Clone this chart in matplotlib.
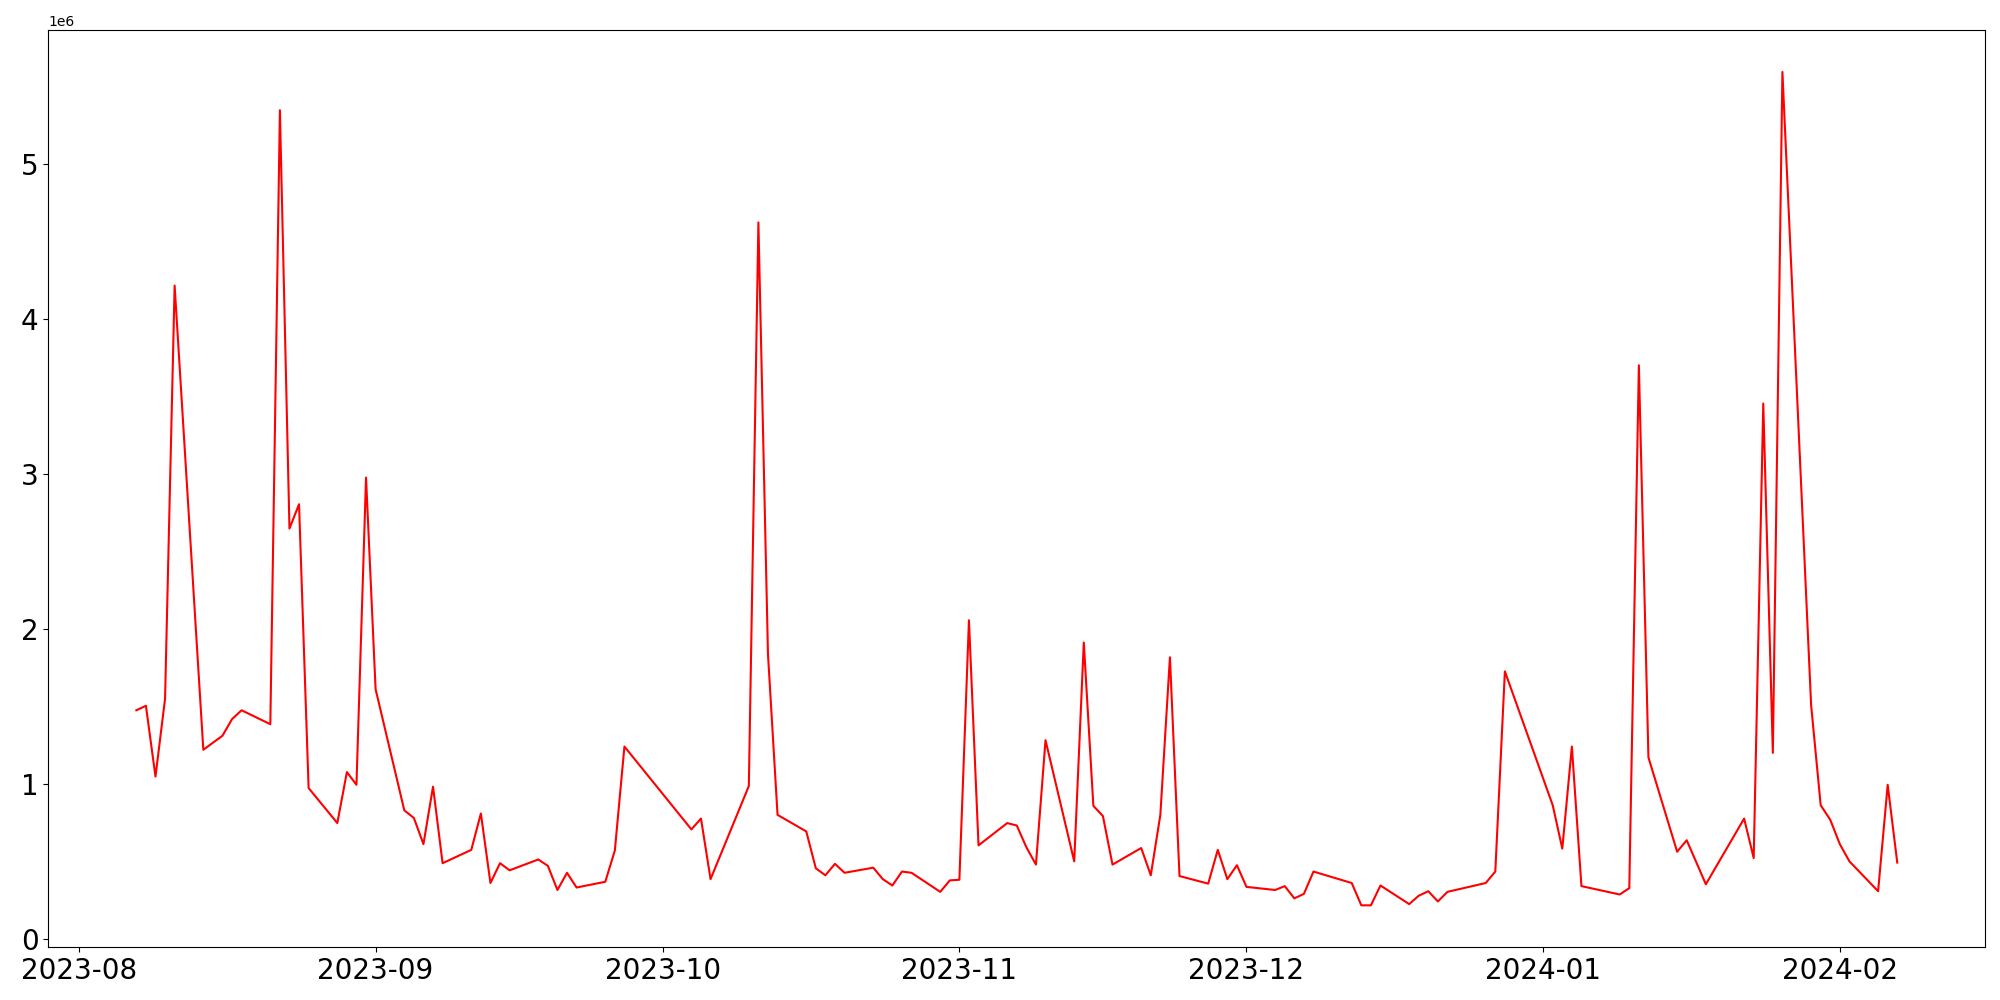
import matplotlib
matplotlib.use("Agg")
import matplotlib.pyplot as plt
import matplotlib.dates as mdates
import pandas as pd

dates = [
    "2023-08-07", "2023-08-08", "2023-08-09", "2023-08-10", "2023-08-11",
    "2023-08-14", "2023-08-16", "2023-08-17", "2023-08-18",
    "2023-08-21", "2023-08-22", "2023-08-23", "2023-08-24", "2023-08-25",
    "2023-08-28", "2023-08-29", "2023-08-30", "2023-08-31", "2023-09-01",
    "2023-09-04", "2023-09-05", "2023-09-06", "2023-09-07", "2023-09-08",
    "2023-09-11", "2023-09-12", "2023-09-13", "2023-09-14", "2023-09-15",
    "2023-09-18", "2023-09-19", "2023-09-20", "2023-09-21", "2023-09-22",
    "2023-09-25", "2023-09-26", "2023-09-27",
    "2023-10-04", "2023-10-05", "2023-10-06",
    "2023-10-10", "2023-10-11", "2023-10-12", "2023-10-13",
    "2023-10-16", "2023-10-17", "2023-10-18", "2023-10-19", "2023-10-20",
    "2023-10-23", "2023-10-24", "2023-10-25", "2023-10-26", "2023-10-27",
    "2023-10-30", "2023-10-31", "2023-11-01", "2023-11-02", "2023-11-03",
    "2023-11-06", "2023-11-07", "2023-11-08", "2023-11-09", "2023-11-10",
    "2023-11-13", "2023-11-14", "2023-11-15", "2023-11-16", "2023-11-17",
    "2023-11-20", "2023-11-21", "2023-11-22", "2023-11-23", "2023-11-24",
    "2023-11-27", "2023-11-28", "2023-11-29", "2023-11-30", "2023-12-01",
    "2023-12-04", "2023-12-05", "2023-12-06", "2023-12-07", "2023-12-08",
    "2023-12-12", "2023-12-13", "2023-12-14", "2023-12-15",
    "2023-12-18", "2023-12-19", "2023-12-20", "2023-12-21", "2023-12-22",
    "2023-12-26", "2023-12-27", "2023-12-28",
    "2024-01-02", "2024-01-03", "2024-01-04", "2024-01-05",
    "2024-01-09", "2024-01-10", "2024-01-11", "2024-01-12",
    "2024-01-15", "2024-01-16", "2024-01-18",
    "2024-01-22", "2024-01-23", "2024-01-24", "2024-01-25", "2024-01-26",
    "2024-01-29", "2024-01-30", "2024-01-31", "2024-02-01", "2024-02-02",
    "2024-02-05", "2024-02-06", "2024-02-07",
]

values = [
    1.477e6, 1.506e6, 1.049e6, 1.551e6, 4.218e6,
    1.222e6, 1.313e6, 1.420e6, 1.477e6,
    1.387e6, 5.350e6, 2.650e6, 2.807e6, 0.975e6,
    0.749e6, 1.078e6, 0.996e6, 2.979e6, 1.613e6,
    0.831e6, 0.782e6, 0.613e6, 0.984e6, 0.490e6,
    0.576e6, 0.811e6, 0.362e6, 0.490e6, 0.444e6,
    0.514e6, 0.473e6, 0.317e6, 0.428e6, 0.333e6,
    0.370e6, 0.572e6, 1.243e6,
    0.708e6, 0.778e6, 0.387e6,
    0.988e6, 4.626e6, 1.840e6, 0.802e6,
    0.695e6, 0.457e6, 0.412e6, 0.486e6, 0.428e6,
    0.461e6, 0.387e6, 0.346e6, 0.436e6, 0.428e6,
    0.305e6, 0.379e6, 0.383e6, 2.058e6, 0.605e6,
    0.749e6, 0.733e6, 0.593e6, 0.481e6, 1.284e6,
    0.502e6, 1.914e6, 0.860e6, 0.794e6, 0.481e6,
    0.588e6, 0.412e6, 0.802e6, 1.819e6, 0.407e6,
    0.358e6, 0.576e6, 0.387e6, 0.477e6, 0.337e6,
    0.317e6, 0.342e6, 0.263e6, 0.292e6, 0.436e6,
    0.362e6, 0.218e6, 0.218e6, 0.346e6,
    0.226e6, 0.280e6, 0.309e6, 0.243e6, 0.305e6,
    0.362e6, 0.436e6, 1.728e6,
    0.864e6, 0.584e6, 1.243e6, 0.342e6,
    0.288e6, 0.329e6, 3.704e6, 1.173e6,
    0.564e6, 0.638e6, 0.354e6,
    0.778e6, 0.523e6, 3.457e6, 1.202e6, 5.597e6,
    1.510e6, 0.864e6, 0.770e6, 0.613e6, 0.502e6,
    0.309e6, 0.996e6, 0.494e6,
]

x = pd.to_datetime(dates)

fig = plt.figure(figsize=(20, 10), dpi=100)
ax = fig.add_axes([0.02415, 0.053, 0.9685, 0.9167])
ax.plot(x, values, color="red", linewidth=1.5)

ax.xaxis.set_major_locator(mdates.MonthLocator())
ax.xaxis.set_major_formatter(mdates.DateFormatter("%Y-%m"))
ax.tick_params(axis="both", labelsize=20)

fig.savefig("out.png", dpi=100)
